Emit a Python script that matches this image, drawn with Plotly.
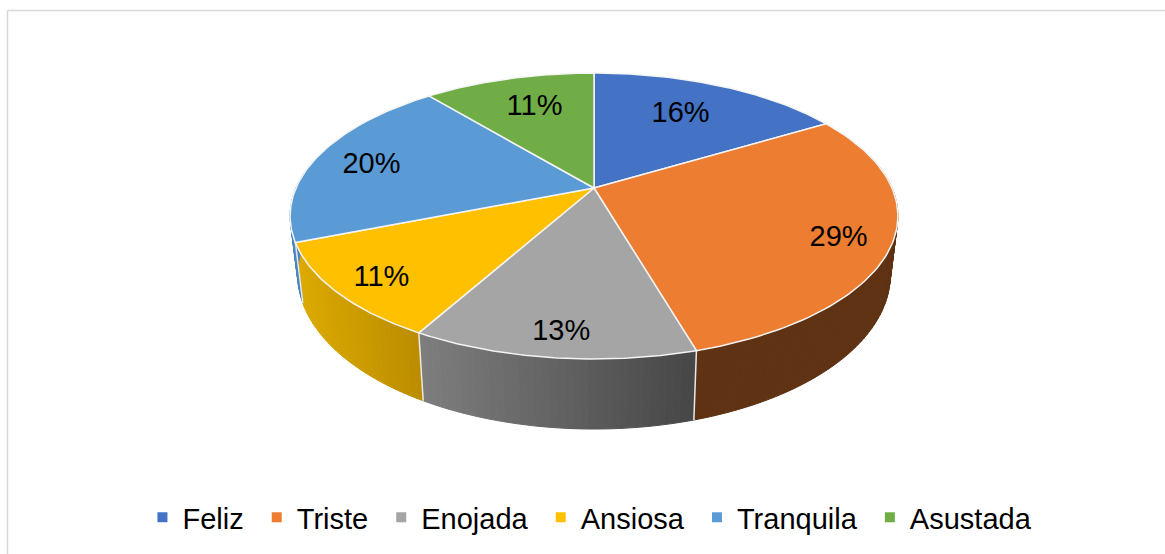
import numpy as np
import plotly.graph_objects as go

# Data
categories = ["Feliz", "Triste", "Enojada", "Ansiosa", "Tranquila", "Asustada"]
values = [16.4, 29.1, 12.6, 10.9, 20.0, 11.0]

# Styles
top_colors = ["#4472C4", "#ED7D31", "#A5A5A5", "#FFC000", "#5B9BD5", "#70AD47"]
side_left = ["#2f5597", "#5f3214", "#7e7e7e", "#dcaa00", "#4a86c0", "#4c7a30"]
side_right = ["#2f5597", "#5f3214", "#464646", "#bb8c00", "#4a86c0", "#4c7a30"]
label_radius = [0.68, 0.84, 0.875, 0.86, 0.79, 0.70]
label_turn = [-1.0, 3.0, -0.5, -1.5, -2.0, 1.0]

# Projection of the tilted disc (page pixel units)
CX, CY, A, B, K = 594.0, 188.0, 298.0, 137.5, 0.196
DEPTH, BOTTOM_SCALE = 56.3, 0.975
FONT = "Liberation Sans, Arial, sans-serif"


def top(t, r=1.0):
    d = 1 + K * r * np.cos(t)
    return CX + A * r * np.sin(t) / d, CY - B * r * np.cos(t) / d


def bottom(t):
    d = 1 + K * np.cos(t)
    return CX + BOTTOM_SCALE * A * np.sin(t) / d, CY + (DEPTH - B * np.cos(t)) / d


def lerp_color(c1, c2, f):
    a = [int(c1[i:i + 2], 16) for i in (1, 3, 5)]
    b = [int(c2[i:i + 2], 16) for i in (1, 3, 5)]
    return "rgb(%d,%d,%d)" % tuple(round(p + (q - p) * f) for p, q in zip(a, b))


total = sum(values)
edges = np.cumsum([0] + values) / total * 2 * np.pi
fig = go.Figure()
noinfo = dict(hoverinfo="skip", showlegend=False)

# Sides, drawn as narrow shaded strips
VIS_START, VIS_END = np.radians(75), np.radians(285)
for i in range(len(values)):
    lo, hi = max(edges[i], VIS_START), min(edges[i + 1], VIS_END)
    if hi <= lo:
        continue
    n = max(2, int(np.degrees(hi - lo) / 1.2))
    ts = np.linspace(lo, hi, n + 1)
    x_hi, x_lo = top(lo)[0], top(hi)[0]
    for j in range(n):
        seg = np.linspace(ts[j], ts[j + 1], 4)
        tx, ty = top(seg)
        bx, by = bottom(seg)
        xm = top((ts[j] + ts[j + 1]) / 2)[0]
        f = (xm - min(x_lo, x_hi)) / (abs(x_hi - x_lo) or 1)
        col = lerp_color(side_left[i], side_right[i], f)
        fig.add_trace(go.Scatter(
            x=list(tx) + list(bx[::-1]) + [tx[0]],
            y=list(ty) + list(by[::-1]) + [ty[0]],
            mode="lines", fill="toself", fillcolor=col,
            line=dict(color=col, width=1), **noinfo))

# White edges between side faces
for i in range(1, len(values)):
    if VIS_START < edges[i] < np.radians(255):
        tx, ty = top(edges[i])
        bx, by = bottom(edges[i])
        fig.add_trace(go.Scatter(x=[tx, bx], y=[ty, by], mode="lines",
                                 line=dict(color="#e8e8e8", width=1.5), **noinfo))

# Top faces
for i in range(len(values)):
    ts = np.linspace(edges[i], edges[i + 1], 80)
    x, y = top(ts)
    fig.add_trace(go.Scatter(
        x=[CX] + list(x) + [CX], y=[CY] + list(y) + [CY],
        mode="lines", fill="toself", fillcolor=top_colors[i],
        line=dict(color="#f4f4f4", width=1.5), **noinfo))

# Data labels
mid = (edges[:-1] + edges[1:]) / 2 + np.radians(label_turn)
lx, ly = top(mid, np.array(label_radius))
fig.add_trace(go.Scatter(
    x=lx, y=ly, mode="text",
    text=["%d%%" % round(v / total * 100) for v in values],
    textposition="middle center",
    textfont=dict(family=FONT, size=29, color="black"), **noinfo))

# Legend entries (a trailing no-break space widens the gap between entries)
for name, col in zip(categories, top_colors):
    fig.add_trace(go.Scatter(
        x=[None], y=[None], mode="markers", name=name + "\u00a0",
        marker=dict(symbol="square", size=10, color=col)))

fig.update_layout(
    width=1165, height=554, margin=dict(l=0, r=0, t=0, b=0),
    paper_bgcolor="white", plot_bgcolor="white",
    xaxis=dict(range=[0, 1165], visible=False, fixedrange=True),
    yaxis=dict(range=[554, 0], visible=False, fixedrange=True),
    hovermode=False,
    legend=dict(orientation="h", x=0.5094, xanchor="center", y=0.02, yanchor="bottom",
                font=dict(family=FONT, size=29, color="black"),
                itemwidth=30, itemclick=False, itemdoubleclick=False,
                bgcolor="rgba(0,0,0,0)"),
    shapes=[dict(type="line", xref="paper", yref="paper", x0=7.5 / 1165, x1=1,
                 y0=1 - 10.5 / 554, y1=1 - 10.5 / 554, line=dict(color="#d9d9d9", width=1.5)),
            dict(type="line", xref="paper", yref="paper", x0=7.5 / 1165, x1=7.5 / 1165,
                 y0=0, y1=1 - 10.5 / 554, line=dict(color="#d9d9d9", width=1.5))],
)

fig.write_html("out.html", config=dict(displayModeBar=False),
               post_script="document.body.style.margin='0';document.body.style.overflow='hidden';")
